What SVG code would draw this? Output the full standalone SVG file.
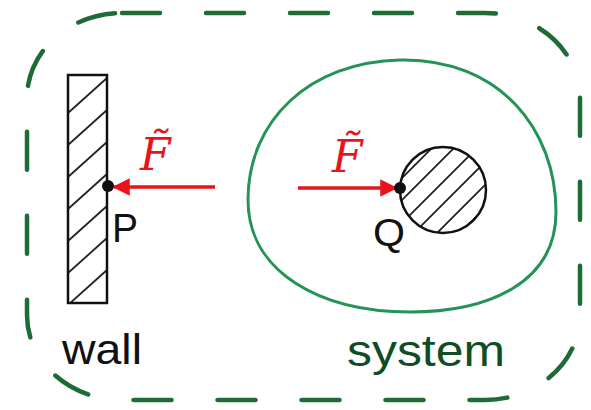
<svg xmlns="http://www.w3.org/2000/svg" width="591" height="410" viewBox="0 0 591 410">
<style>
.dash{fill:none;stroke:#1d6b35;stroke-width:4.5;stroke-linecap:round;stroke-dasharray:38 46}
.blob{fill:none;stroke:#249356;stroke-width:3}
.ink{fill:none;stroke:#111;stroke-width:2.5}
.hatch{stroke:#222;stroke-width:1.8}
.force{stroke:#e8141c;stroke-width:3.5}
.lbl{font-family:"Liberation Sans",Arial,sans-serif;fill:#111}
.flbl{font-family:"DejaVu Serif",serif;font-style:italic;fill:#e8141c;font-size:44px}
</style>
<defs>
<marker id="ah" viewBox="0 0 10 10" refX="9" refY="5" markerWidth="5" markerHeight="5" orient="auto-start-reverse">
<path d="M0,0 L10,5 L0,10 Z" fill="#e8141c"/>
</marker>
<clipPath id="wallclip"><rect x="68" y="75" width="39" height="228"/></clipPath>
<clipPath id="ballclip"><circle cx="443" cy="190" r="43"/></clipPath>
</defs>
<rect class="dash" x="27" y="13" width="553" height="387" rx="95" ry="85"/>
<g id="wall">
<g clip-path="url(#wallclip)">
<path class="hatch" d="M68,113 L107,78 M68,145 L107,110 M68,177 L107,142 M68,209 L107,174 M68,241 L107,206 M68,273 L107,238 M68,305 L107,270 M68,337 L107,302"/>
</g>
<rect class="ink" x="68" y="75" width="39" height="228"/>
<text class="lbl" x="62" y="364" font-size="42" textLength="80" lengthAdjust="spacingAndGlyphs">wall</text>
</g>
<g id="system">
<path class="blob" d="M400,60 C500,58 556,130 556,212 C556,282 490,312 410,312 C320,312 248,272 248,200 C248,120 310,62 400,60 Z"/>
<g clip-path="url(#ballclip)">
<path class="hatch" d="M380,200 L470,110 M380,222 L480,122 M385,240 L495,130 M395,252 L495,152 M410,260 L500,170 M425,268 L500,193 M445,270 L500,215"/>
</g>
<circle class="ink" cx="443" cy="190" r="43"/>
<text class="lbl" x="347" y="366" font-size="44" style="fill:#0f4d22" textLength="158" lengthAdjust="spacingAndGlyphs">system</text>
</g>
<g id="connectors">
<line class="force" x1="215" y1="187" x2="114" y2="187" marker-end="url(#ah)"/>
<line class="force" x1="298" y1="188" x2="396" y2="188" marker-end="url(#ah)"/>
</g>
<g id="P">
<circle cx="108" cy="186" r="6" fill="#111"/>
<text class="lbl" x="112" y="242" font-size="40" textLength="26" lengthAdjust="spacingAndGlyphs">P</text>
</g>
<g id="Q">
<circle cx="400" cy="188" r="6" fill="#111"/>
<text class="lbl" x="373" y="246" font-size="38" textLength="32" lengthAdjust="spacingAndGlyphs">Q</text>
</g>
<text class="flbl" x="140" y="170">F̃</text>
<text class="flbl" x="332" y="172">F̃</text>
</svg>
